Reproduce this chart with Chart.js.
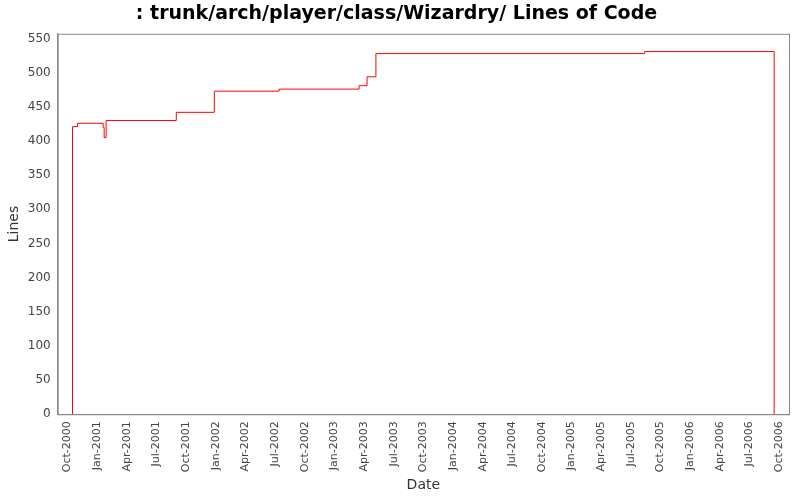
<!DOCTYPE html>
<html>
<head>
<script src="https://cdn.jsdelivr.net/npm/chart.js@4"></script>
<style>
body { margin: 0; background: #fff; }
</style>
</head>
<body>
<canvas id="c" width="800" height="500"></canvas>
<script>
// months since Oct-2000
const months = [0.5, 1.0, 3.6, 3.7, 3.9, 11.0, 14.85, 21.4, 29.5, 30.3, 31.2, 58.4, 71.5]
const lines = [421, 426, 420, 405, 430, 442, 473, 476, 481, 494, 528, 531, 0]

const tickLabels = [
       "Oct-2000", "Jan-2001", "Apr-2001", "Jul-2001", "Oct-2001", "Jan-2002", "Apr-2002",
       "Jul-2002", "Oct-2002", "Jan-2003", "Apr-2003", "Jul-2003", "Oct-2003", "Jan-2004",
       "Apr-2004", "Jul-2004", "Oct-2004", "Jan-2005", "Apr-2005", "Jul-2005", "Oct-2005",
       "Jan-2006", "Apr-2006", "Jul-2006", "Oct-2006"
]

Chart.defaults.font.family = "DejaVu Sans"
Chart.defaults.color = "#333"

const points = [{ x: 0.5, y: 0 }]
months.forEach((m, i) => points.push({ x: m, y: lines[i] }))

const frame = {
       id: "frame",
       afterDraw(chart) {
              const a = chart.chartArea
              const ctx = chart.ctx
              ctx.save()
              ctx.strokeStyle = "#888"
              ctx.lineWidth = 1
              ctx.strokeRect(a.left + 0.5, a.top + 0.5, a.right - a.left, a.bottom - a.top)
              ctx.restore()
       }
}

new Chart(document.getElementById("c"), {
       type: "line",
       data: {
              datasets: [{
                     data: points,
                     borderColor: "#ff0000",
                     borderWidth: 1,
                     pointRadius: 0,
                     stepped: "before"
              }]
       },
       options: {
              responsive: false,
              animation: false,
              devicePixelRatio: 1,
              layout: { padding: { left: 4, right: 11, top: 0, bottom: 4 } },
              plugins: {
                     legend: { display: false },
                     tooltip: { enabled: false },
                     title: {
                            display: true,
                            text: ": trunk/arch/player/class/Wizardry/ Lines of Code",
                            font: { size: 19, weight: "bold" },
                            color: "#000",
                            padding: { top: 3, bottom: 8 }
                     }
              },
              scales: {
                     x: {
                            type: "linear",
                            min: -1,
                            max: 73,
                            afterBuildTicks: s => { s.ticks = tickLabels.map((_, i) => ({ value: i * 3 })) },
                            ticks: {
                                   autoSkip: false,
                                   maxRotation: 90,
                                   minRotation: 90,
                                   font: { size: 11 },
                                   color: "#444",
                                   callback: v => tickLabels[v / 3]
                            },
                            grid: { display: false, drawTicks: true, tickLength: 4 },
                            border: { color: "#888" },
                            title: { display: true, text: "Date", font: { size: 14 }, color: "#333", padding: 2 }
                     },
                     y: {
                            min: 0,
                            max: 557,
                            afterBuildTicks: s => { s.ticks = Array.from({ length: 12 }, (_, i) => ({ value: i * 50 })) },
                            ticks: { font: { size: 12 }, color: "#444" },
                            grid: { display: false, tickLength: 4 },
                            border: { color: "#888" },
                            title: { display: true, text: "Lines", font: { size: 14 }, color: "#333", padding: 2 }
                     }
              }
       },
       plugins: [frame]
})
</script>
</body>
</html>
